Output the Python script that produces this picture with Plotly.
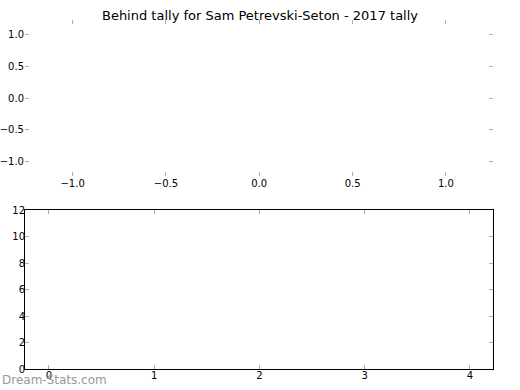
import plotly.graph_objects as go

# Data (the reference chart is empty: no marks are drawn)
top_x_values = []
top_y_values = []
bottom_x_values = []
bottom_y_values = []

top_ticks = [-1.0, -0.5, 0.0, 0.5, 1.0]
bottom_x_ticks = [0, 1, 2, 3, 4]
bottom_y_ticks = [0, 2, 4, 6, 8, 10, 12]

title_text = "Behind tally for Sam Petrevski-Seton - 2017 tally"
watermark = "Dream-Stats.com"

W, H = 520, 390
FONT = "DejaVu Sans"
TICKC = "#b0b0b0"

fig = go.Figure()
fig.add_trace(go.Scatter(x=top_x_values, y=top_y_values, xaxis="x", yaxis="y",
                         mode="markers", showlegend=False))
fig.add_trace(go.Scatter(x=bottom_x_values, y=bottom_y_values, xaxis="x2", yaxis="y2",
                         mode="markers", showlegend=False))

xdom = [25 / W, 493 / W]
top_dom = [(H - 176) / H, (H - 20) / H]
bot_dom = [(H - 369) / H, (H - 210) / H]

common = dict(showgrid=False, zeroline=False, ticks="inside", ticklen=4, tickwidth=1,
              tickcolor=TICKC, tickfont=dict(family=FONT, size=10, color="black"),
              fixedrange=True, automargin=False)

fig.update_layout(
    width=W, height=H,
    margin=dict(l=0, r=0, t=0, b=0, pad=0),
    paper_bgcolor="white", plot_bgcolor="white",
    font=dict(family=FONT, color="black"),
    title=dict(text=title_text, x=0.5, xanchor="center", y=(H - 15) / H, yanchor="middle",
               automargin=False, font=dict(family=FONT, size=13, color="black")),
    xaxis=dict(domain=xdom, anchor="y", range=[-1.255, 1.252], tickvals=top_ticks,
               tickformat=".1f", showline=True, linecolor="rgba(0,0,0,0)", mirror="ticks",
               ticklabelstandoff=-2, **common),
    yaxis=dict(domain=top_dom, anchor="x", range=[-1.22, 1.22], tickvals=top_ticks,
               tickformat=".1f", showline=True, linecolor="rgba(0,0,0,0)", mirror="ticks",
               ticklabelstandoff=-2, **common),
    xaxis2=dict(domain=xdom, anchor="y2", range=[-0.228, 4.219], tickvals=bottom_x_ticks,
                showline=True, linecolor="black", linewidth=1, mirror="ticks",
                ticklabelstandoff=-3, **common),
    yaxis2=dict(domain=bot_dom, anchor="x2", range=[0, 12], tickvals=bottom_y_ticks,
                showline=True, linecolor="black", linewidth=1, mirror="ticks",
                ticklabelstandoff=-3, **common),
    annotations=[dict(text=watermark, xref="paper", yref="paper",
                      x=0, y=(H - 380) / H, xanchor="left", yanchor="middle",
                      showarrow=False, font=dict(family=FONT, size=12, color="#999999"))],
)

fig.write_html("out.html", config={"displayModeBar": False},
               post_script="document.body.style.margin='0';document.body.style.overflow='hidden';")
